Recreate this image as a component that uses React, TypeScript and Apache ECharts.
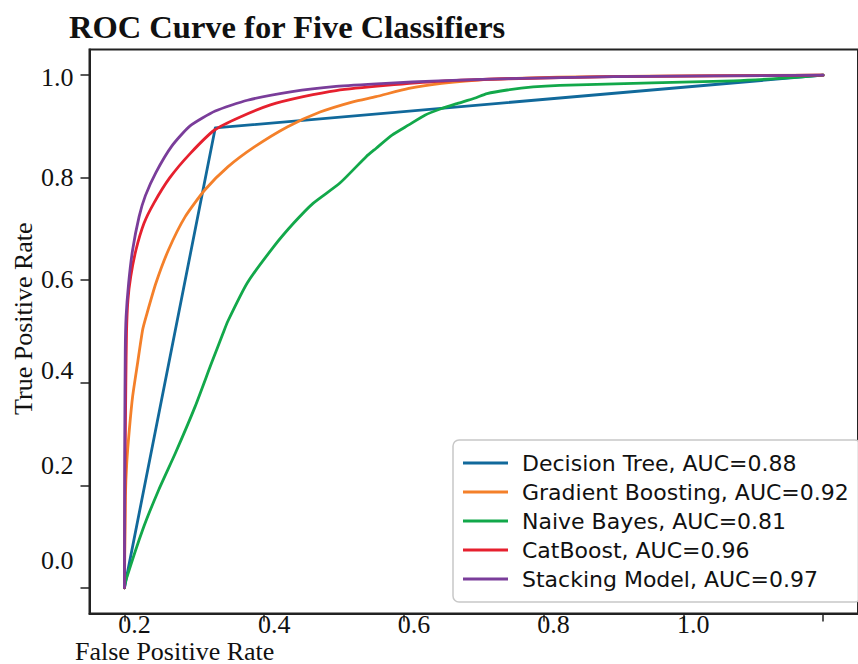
import { useEffect, useRef } from "react";
import * as echarts from "echarts";

// Axis ticks (data units) and the labels printed at them
const xTickValues = [0, 0.2, 0.4, 0.6, 0.8, 1.0];
const xTickLabels = ["0.2", "0.4", "0.6", "0.8", "1.0", ""];
const yTickValues = [0, 0.2, 0.4, 0.6, 0.8, 1.0];
const yTickLabels = ["0.0", "0.2", "0.4", "0.6", "0.8", "1.0"];

// Models and their AUC scores
const modelNames = ["Decision Tree", "Gradient Boosting", "Naive Bayes", "CatBoost", "Stacking Model"];
const aucValues = [0.88, 0.92, 0.81, 0.96, 0.97];

// ROC points per model: false positive rate / true positive rate
const dtFpr = [0, 0.13, 1];
const dtTpr = [0, 0.897, 1];

const gbFpr = [0, 0.0014, 0.0033, 0.007, 0.0117, 0.0188, 0.026, 0.031, 0.045, 0.063, 0.087, 0.115, 0.148, 0.186, 0.233, 0.28, 0.327, 0.36, 0.407, 0.454, 0.501, 0.547, 0.62, 0.75, 1];
const gbTpr = [0, 0.178, 0.243, 0.308, 0.373, 0.438, 0.503, 0.529, 0.594, 0.659, 0.724, 0.776, 0.821, 0.86, 0.899, 0.928, 0.948, 0.958, 0.974, 0.984, 0.99, 0.993, 0.996, 0.998, 1];

const nbFpr = [0, 0.0024, 0.026, 0.049, 0.073, 0.101, 0.1245, 0.141, 0.148, 0.176, 0.214, 0.242, 0.27, 0.308, 0.346, 0.36, 0.383, 0.407, 0.43, 0.454, 0.477, 0.501, 0.519, 0.548, 0.585, 0.623, 0.755, 0.872, 0.942, 1];
const nbTpr = [0, 0.016, 0.113, 0.191, 0.263, 0.353, 0.438, 0.496, 0.52, 0.595, 0.666, 0.711, 0.75, 0.789, 0.841, 0.857, 0.883, 0.903, 0.922, 0.935, 0.945, 0.955, 0.964, 0.971, 0.977, 0.98, 0.985, 0.989, 0.994, 1];

const cbFpr = [0, 0.001, 0.002, 0.003, 0.005, 0.009, 0.0165, 0.028, 0.042, 0.065, 0.094, 0.129, 0.165, 0.209, 0.256, 0.303, 0.374, 0.45, 0.55, 0.7, 1];
const cbTpr = [0, 0.25, 0.4, 0.5, 0.561, 0.607, 0.659, 0.711, 0.75, 0.8, 0.847, 0.893, 0.918, 0.942, 0.958, 0.97, 0.98, 0.988, 0.993, 0.997, 1];

const smFpr = [0, 0.0005, 0.0012, 0.0024, 0.006, 0.0117, 0.021, 0.03, 0.045, 0.068, 0.094, 0.13, 0.176, 0.24, 0.303, 0.374, 0.45, 0.55, 0.7, 1];
const smTpr = [0, 0.3, 0.464, 0.529, 0.594, 0.659, 0.724, 0.765, 0.81, 0.862, 0.901, 0.93, 0.951, 0.968, 0.978, 0.984, 0.989, 0.993, 0.997, 1];

const curveFpr = [dtFpr, gbFpr, nbFpr, cbFpr, smFpr];
const curveTpr = [dtTpr, gbTpr, nbTpr, cbTpr, smTpr];
const curveColors = ["#11699b", "#f4802a", "#12a84a", "#e6202e", "#7a3d9a"];

const SERIF = "'Liberation Serif', 'DejaVu Serif', serif";
const SANS = "'DejaVu Sans', 'Noto Sans', sans-serif";
const INK = "#111";
const AXIS = "#222";

// upward nudge (px) applied to each y tick label
const yLabelLift = [27, 20, 12, 1, 0, -2];

export default function App() {
  const ref = useRef<HTMLDivElement>(null);

  useEffect(() => {
    if (!ref.current) return;
    const chart = echarts.init(ref.current, null, { renderer: "svg" });

    const legendNames = modelNames.map((n, i) => `${n}, AUC=${aucValues[i].toFixed(2)}`);

    const series = modelNames.map((_, i) => ({
      type: "line",
      name: legendNames[i],
      data: curveFpr[i].map((x, k) => [x, curveTpr[i][k]]),
      showSymbol: false,
      symbol: "none",
      smooth: i === 0 ? false : 0.2,
      lineStyle: { color: curveColors[i], width: 2.8, join: "round", cap: "round" },
      itemStyle: { color: curveColors[i] },
    }));

    const yRich: Record<string, any> = {};
    yLabelLift.forEach((d, i) => {
      yRich[`l${i}`] = {
        fontFamily: SERIF,
        fontSize: 26,
        color: INK,
        padding: d >= 0 ? [0, 0, 2 * d, 0] : [-2 * d, 0, 0, 0],
      };
    });

    chart.setOption({
      animation: false,
      backgroundColor: "#ffffff",
      grid: {
        left: 89.5,
        top: 49.5,
        width: 780,
        height: 564,
        show: true,
        borderColor: AXIS,
        borderWidth: 2,
        backgroundColor: "transparent",
      },
      xAxis: {
        type: "value",
        min: -0.05,
        max: 1.05,
        splitLine: { show: false },
        axisLine: { onZero: false, lineStyle: { color: AXIS, width: 2 } },
        axisTick: { customValues: xTickValues, length: 8, lineStyle: { color: AXIS, width: 1.5 } },
        axisLabel: {
          customValues: xTickValues,
          margin: 0,
          padding: [0, 0, 0, 20],
          fontFamily: SERIF,
          fontSize: 26,
          lineHeight: 22,
          color: INK,
          formatter: (v: number) => xTickLabels[Math.round(v / 0.2)] ?? "",
        },
      },
      yAxis: {
        type: "value",
        min: -0.05,
        max: 1.05,
        splitLine: { show: false },
        axisLine: { onZero: false, lineStyle: { color: AXIS, width: 2 } },
        axisTick: { customValues: yTickValues, length: 9, lineStyle: { color: AXIS, width: 1.5 } },
        axisLabel: {
          customValues: yTickValues,
          margin: 16,
          formatter: (v: number) => {
            const i = Math.round(v / 0.2);
            return `{l${i}|${yTickLabels[i]}}`;
          },
          rich: yRich,
        },
      },
      legend: {
        orient: "vertical",
        left: 453,
        top: 440,
        data: legendNames,
        icon: "rect",
        itemWidth: 45,
        itemHeight: 3,
        itemGap: 5,
        padding: [11, 12, 11, 10],
        backgroundColor: "rgba(255,255,255,0.9)",
        borderColor: "#c8c8c8",
        borderWidth: 1.5,
        borderRadius: 6,
        textStyle: {
          fontFamily: SANS,
          fontSize: 22,
          color: INK,
          lineHeight: 24,
          padding: [0, 0, 0, 9],
        },
      },
      graphic: [
        {
          type: "text",
          left: 69,
          top: 10,
          style: {
            text: "ROC Curve for Five Classifiers",
            font: `bold 32.5px ${SERIF}`,
            fill: INK,
          },
        },
        {
          type: "text",
          left: 75,
          top: 638,
          style: {
            text: "False Positive Rate",
            font: `26px ${SERIF}`,
            fill: INK,
          },
        },
        {
          type: "text",
          x: 10,
          y: 415,
          rotation: Math.PI / 2,
          style: {
            text: "True Positive Rate",
            font: `26px ${SERIF}`,
            fill: INK,
            textAlign: "left",
            textVerticalAlign: "top",
          },
        },
      ],
      series,
    });

    return () => chart.dispose();
  }, []);

  return (
    <div
      ref={ref}
      style={{ position: "fixed", left: 0, top: 0, width: 858, height: 664, background: "#fff" }}
    />
  );
}
